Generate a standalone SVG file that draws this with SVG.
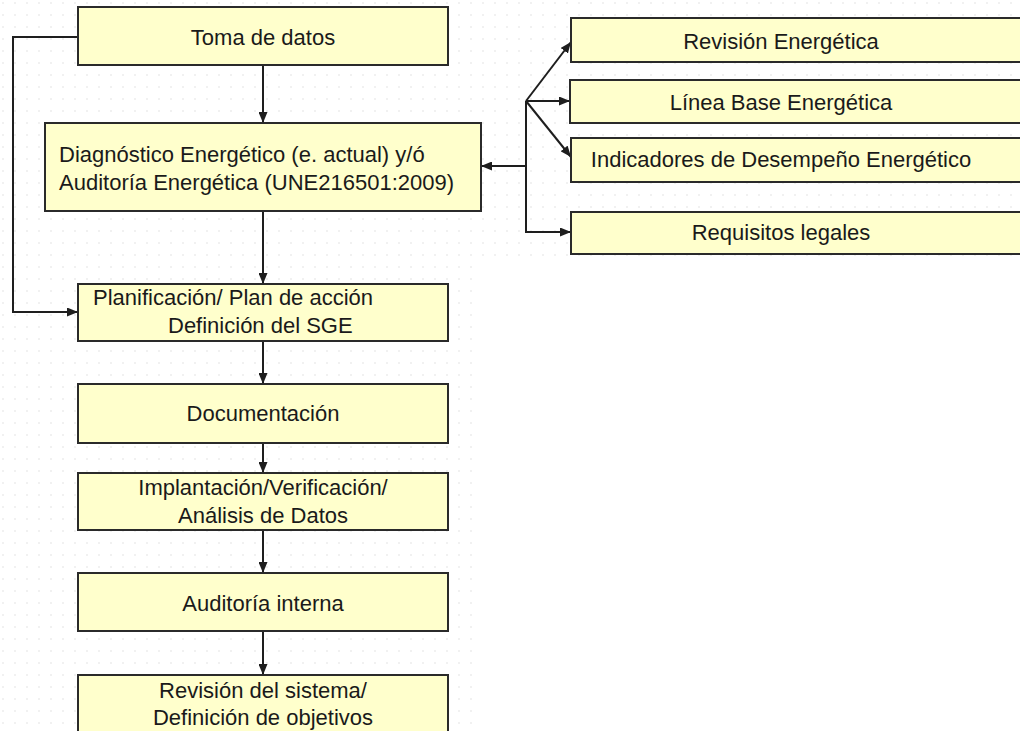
<svg xmlns="http://www.w3.org/2000/svg" width="1020" height="731" viewBox="0 0 1020 731">
<defs>
<pattern id="dots" width="12" height="12" patternUnits="userSpaceOnUse">
<circle cx="3" cy="3" r="0.7" fill="#d9d9d9"/>
</pattern>
<marker id="ah" markerUnits="userSpaceOnUse" markerWidth="11" markerHeight="9" refX="11" refY="4.5" orient="auto">
<path d="M0,0 L11,4.5 L0,9 z" fill="#1e1e1e"/>
</marker>
</defs>
<style>
.box{fill:#ffffcc;stroke:#2a2a2a;stroke-width:2}
.t{font-family:"Liberation Sans",Arial,sans-serif;font-size:22px;fill:#1a1a1a}
.c{text-anchor:middle}
.ln{fill:none;stroke:#1e1e1e;stroke-width:2}
</style>
<rect x="0" y="0" width="1020" height="731" fill="#ffffff"/>
<rect x="0" y="0" width="1020" height="265" fill="url(#dots)"/>
<rect x="0" y="265" width="480" height="466" fill="url(#dots)"/>

<g id="connectors">
<path class="ln" d="M263,65 V123" marker-end="url(#ah)"/>
<path class="ln" d="M263,211 V284" marker-end="url(#ah)"/>
<path class="ln" d="M263,341 V384" marker-end="url(#ah)"/>
<path class="ln" d="M263,443 V473" marker-end="url(#ah)"/>
<path class="ln" d="M263,530 V573" marker-end="url(#ah)"/>
<path class="ln" d="M263,631 V675" marker-end="url(#ah)"/>
<path class="ln" d="M78,37 H13 V312 H78" marker-end="url(#ah)"/>
<path class="ln" d="M526,166 H481" marker-end="url(#ah)"/>
<path class="ln" d="M526,101 V232 H571" marker-end="url(#ah)"/>
<path class="ln" d="M526,101 L571,42" marker-end="url(#ah)"/>
<path class="ln" d="M526,101 H570" marker-end="url(#ah)"/>
<path class="ln" d="M526,101 L571,157" marker-end="url(#ah)"/>
</g>

<g id="toma">
<rect class="box" x="78" y="7" width="370" height="58"/>
<text class="t c" x="263" y="45">Toma de datos</text>
</g>
<g id="diagnostico">
<rect class="box" x="45" y="123" width="436" height="88"/>
<text class="t" x="59" y="162">Diagnóstico Energético (e. actual) y/ó</text>
<text class="t" x="59" y="190">Auditoría Energética (UNE216501:2009)</text>
</g>
<g id="planificacion">
<rect class="box" x="78" y="284" width="370" height="57"/>
<text class="t" x="93" y="305">Planificación/ Plan de acción</text>
<text class="t" x="168" y="333">Definición del SGE</text>
</g>
<g id="documentacion">
<rect class="box" x="78" y="384" width="370" height="59"/>
<text class="t c" x="263" y="421">Documentación</text>
</g>
<g id="implantacion">
<rect class="box" x="78" y="473" width="370" height="57"/>
<text class="t c" x="263" y="495">Implantación/Verificación/</text>
<text class="t c" x="263" y="523">Análisis de Datos</text>
</g>
<g id="auditoria">
<rect class="box" x="78" y="573" width="370" height="58"/>
<text class="t c" x="263" y="611">Auditoría interna</text>
</g>
<g id="revision-sistema">
<rect class="box" x="78" y="675" width="370" height="70"/>
<text class="t c" x="263" y="698">Revisión del sistema/</text>
<text class="t c" x="263" y="725">Definición de objetivos</text>
</g>
<g id="revision-energetica">
<rect class="box" x="571" y="18" width="460" height="44"/>
<text class="t c" x="781" y="49">Revisión Energética</text>
</g>
<g id="linea-base">
<rect class="box" x="570" y="80" width="460" height="43"/>
<text class="t c" x="781" y="110">Línea Base Energética</text>
</g>
<g id="indicadores">
<rect class="box" x="571" y="138" width="460" height="44"/>
<text class="t c" x="781" y="167">Indicadores de Desempeño Energético</text>
</g>
<g id="requisitos">
<rect class="box" x="571" y="212" width="460" height="42"/>
<text class="t c" x="781" y="240">Requisitos legales</text>
</g>
</svg>
